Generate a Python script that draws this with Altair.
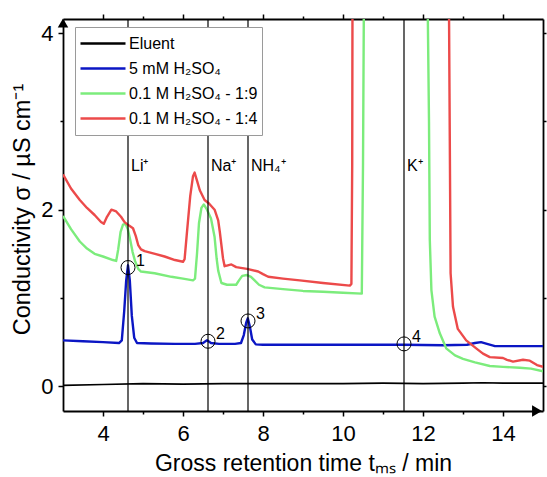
import altair as alt
import pandas as pd

# ---------------- data ----------------
X_MIN, X_MAX = 3, 15
Y_MIN, Y_MAX = -0.28, 4.16

series_names = ["Eluent", "5 mM H₂SO₄", "0.1 M H₂SO₄ - 1:9", "0.1 M H₂SO₄ - 1:4"]
series_colors = ["#000000", "#0b16c4", "#7cec7c", "#ec4a4a"]

eluent_t = [3.0, 4.0, 5.0, 6.0, 7.0, 8.0, 9.0, 10.0, 11.0, 12.0, 13.0, 13.5, 14.0, 15.0]
eluent_v = [0.01, 0.02, 0.03, 0.025, 0.03, 0.03, 0.03, 0.03, 0.035, 0.03, 0.035, 0.04, 0.035, 0.035]

blue_t = [3.0, 3.5, 4.0, 4.4, 4.47, 4.53, 4.58, 4.625, 4.67, 4.72, 4.78, 4.85, 5.2, 5.8, 6.3,
          6.5, 6.6, 6.7, 6.9, 7.3, 7.45, 7.52, 7.58, 7.62, 7.67, 7.73, 7.82, 8.0, 8.6, 9.5,
          10.5, 11.5, 12.5, 13.1, 13.3, 13.45, 13.6, 13.8, 14.4, 15.0]
blue_v = [0.52, 0.51, 0.50, 0.49, 0.52, 0.85, 1.2, 1.37, 1.2, 0.8, 0.55, 0.49, 0.485, 0.48, 0.48,
          0.49, 0.52, 0.49, 0.48, 0.48, 0.49, 0.58, 0.72, 0.77, 0.68, 0.53, 0.475, 0.47, 0.47, 0.47,
          0.47, 0.47, 0.465, 0.47, 0.49, 0.50, 0.48, 0.455, 0.455, 0.455]

green_t = [3.0, 3.2, 3.42, 3.6, 3.79, 4.0, 4.25, 4.33, 4.38, 4.44, 4.5, 4.56, 4.62, 4.68, 4.74,
           4.8, 4.88, 4.95, 5.29, 5.71, 6.0, 6.25, 6.3, 6.35, 6.4, 6.46, 6.52, 6.6, 6.7, 6.79,
           6.84, 6.88, 6.96, 7.1, 7.33, 7.4, 7.48, 7.6, 7.7, 7.79, 7.9, 8.04, 8.5, 9.0, 9.5,
           10.0, 10.47, 10.5, 10.53, 12.1, 12.15, 12.17, 12.21, 12.29, 12.42, 12.58, 12.8, 13.0,
           13.3, 13.67, 14.0, 14.42, 14.7, 15.0]
green_v = [1.93, 1.78, 1.64, 1.56, 1.50, 1.47, 1.43, 1.42, 1.55, 1.75, 1.83, 1.84, 1.78, 1.66, 1.52,
           1.42, 1.33, 1.30, 1.28, 1.24, 1.22, 1.20, 1.22, 1.5, 1.85, 2.02, 2.06, 2.0, 1.9, 1.69,
           1.45, 1.31, 1.17, 1.15, 1.15, 1.2, 1.25, 1.26, 1.24, 1.20, 1.15, 1.12, 1.10, 1.08, 1.07,
           1.06, 1.05, 2.5, 5.0, 5.0, 3.0, 1.66, 1.09, 0.79, 0.60, 0.43, 0.35, 0.31,
           0.27, 0.23, 0.22, 0.21, 0.20, 0.17]

red_t = [3.0, 3.2, 3.42, 3.6, 3.79, 3.95, 4.02, 4.1, 4.21, 4.33, 4.45, 4.54, 4.65, 4.75, 4.82,
         4.88, 4.95, 5.04, 5.3, 5.54, 5.8, 6.0, 6.04, 6.1, 6.18, 6.25, 6.29, 6.35, 6.42, 6.54,
         6.65, 6.79, 6.88, 6.92, 6.96, 7.0, 7.04, 7.12, 7.21, 7.33, 7.6, 7.88, 8.0, 8.13, 8.5,
         8.92, 9.5, 10.17, 10.21, 10.23, 10.24, 12.64, 12.67, 12.69, 12.75, 12.87, 13.08, 13.33,
         13.5, 13.67, 14.0, 14.1, 14.25, 14.5, 14.67, 14.85, 15.0]
red_v = [2.40, 2.24, 2.11, 2.02, 1.94, 1.86, 1.84, 1.92, 2.0, 1.98, 1.92, 1.86, 1.82, 1.79, 1.70,
         1.60, 1.55, 1.53, 1.50, 1.47, 1.43, 1.41, 1.44, 1.75, 2.15, 2.38, 2.42, 2.33, 2.22, 2.11,
         2.07, 2.0, 1.88, 1.75, 1.60, 1.45, 1.36, 1.37, 1.38, 1.35, 1.33, 1.30, 1.27, 1.24, 1.22,
         1.20, 1.17, 1.14, 1.16, 2.5, 5.0, 5.0, 2.79, 1.28, 0.90, 0.65, 0.52, 0.43,
         0.37, 0.33, 0.32, 0.30, 0.28, 0.30, 0.29, 0.24, 0.22]

ion_names = ["Li⁺", "Na⁺", "NH₄⁺", "K⁺"]
ion_times = [4.625, 6.625, 7.625, 11.525]
ION_LABEL_Y = 2.5

peak_labels = ["1", "2", "3", "4"]
peak_t = [4.625, 6.625, 7.625, 11.525]
peak_v = [1.345, 0.51, 0.74, 0.48]

X_MAJOR = [4, 6, 8, 10, 12, 14]
X_MINOR = [5, 7, 9, 11, 13]
Y_MAJOR = [0, 2, 4]
Y_MINOR = [1, 3]
Y_RIGHT = [0, 1, 2, 3, 4]

# ---------------- tables ----------------
frames = []
for name, ts, vs in zip(series_names, [eluent_t, blue_t, green_t, red_t],
                        [eluent_v, blue_v, green_v, red_v]):
    frames.append(pd.DataFrame({"t": ts, "v": vs, "series": name, "idx": range(len(ts))}))
curves = pd.concat(frames, ignore_index=True)

ions = pd.DataFrame({"ion": ion_names, "t": ion_times, "v": [ION_LABEL_Y] * len(ion_names)})
peaks = pd.DataFrame({"lab": peak_labels, "t": peak_t, "v": peak_v})
corners = pd.DataFrame({"t": [X_MIN, X_MAX], "v": [Y_MIN, Y_MAX]})
top_arrow = pd.DataFrame({"t": [X_MIN], "v": [Y_MAX]})
right_arrow = pd.DataFrame({"t": [X_MAX], "v": [Y_MIN]})

FONT = "Liberation Sans"
NB = "\u00a0"
xs = alt.Scale(domain=[X_MIN, X_MAX], nice=False, zero=False)
ys = alt.Scale(domain=[Y_MIN, Y_MAX], nice=False, zero=False)

common = dict(domainColor="black", tickColor="black", labelColor="black", grid=False,
              labelFont=FONT, titleFont=FONT, tickWidth=1.5, domainWidth=1.8)

# axis layers
axA = alt.Chart(corners).mark_point(opacity=0).encode(
    x=alt.X("t:Q", scale=xs, axis=alt.Axis(
        orient="bottom", values=X_MAJOR, tickSize=5, labelFontSize=22, labelPadding=7,
        format="d", title="Gross retention time tₘₛ / min", titleFontSize=23,
        titleFontWeight="normal", titleY=59, titleBaseline="alphabetic", titleColor="black",
        **common)),
    y=alt.Y("v:Q", scale=ys, axis=alt.Axis(
        orient="left", values=Y_MAJOR, tickSize=5, labelFontSize=22, labelPadding=5,
        format="d", title=f"Conductivity σ{NB}/{NB}µS{NB}cm⁻¹", titleFontSize=23.5,
        titleFontWeight="normal", titleX=-41, titleY=190, titleAlign="center",
        titleBaseline="middle", titleAngle=270, titleColor="black", **common)),
)
axB = alt.Chart(corners).mark_point(opacity=0).encode(
    x=alt.X("t:Q", scale=xs, axis=alt.Axis(orient="bottom", values=X_MINOR, tickSize=3,
                                          labels=False, domain=False, title=None, **common)),
    y=alt.Y("v:Q", scale=ys, axis=alt.Axis(orient="left", values=Y_MINOR, tickSize=3,
                                          labels=False, domain=False, title=None, **common)),
)
axC = alt.Chart(corners).mark_point(opacity=0).encode(
    x=alt.X("t:Q", scale=xs, axis=alt.Axis(orient="top", values=X_MAJOR, tickSize=5,
                                          labels=False, title=None, **common)),
    y=alt.Y("v:Q", scale=ys, axis=alt.Axis(orient="right", values=Y_RIGHT, tickSize=3,
                                          labels=False, title=None, **common)),
)
axD = alt.Chart(corners).mark_point(opacity=0).encode(
    x=alt.X("t:Q", scale=xs, axis=alt.Axis(orient="top", values=X_MINOR, tickSize=3,
                                          labels=False, domain=False, title=None, **common)),
    y=alt.Y("v:Q", scale=ys, axis=None),
)

lines = alt.Chart(curves).mark_line(clip=True, strokeJoin="round").encode(
    x=alt.X("t:Q", scale=xs, axis=None),
    y=alt.Y("v:Q", scale=ys, axis=None),
    order="idx:Q",
    strokeWidth=alt.condition(alt.datum.series == "Eluent", alt.value(1.7), alt.value(2.4)),
    color=alt.Color("series:N", scale=alt.Scale(domain=series_names, range=series_colors),
                    legend=alt.Legend(
                        title=None, orient="none", legendX=12, legendY=8,
                        symbolType="stroke", symbolSize=2025, symbolStrokeWidth=2.4,
                        labelFontSize=16, labelFont=FONT, labelColor="black",
                        strokeColor="#9a9a9a", padding=4, rowPadding=0, clipHeight=25,
                        labelOffset=2, fillColor="white", labelLimit=300)),
)

rules = alt.Chart(ions).mark_rule(color="black", strokeWidth=1.2).encode(
    x=alt.X("t:Q", scale=xs, axis=None),
)
ion_text = alt.Chart(ions).mark_text(align="left", baseline="middle", dx=3, fontSize=16,
                                     font=FONT, color="black").encode(
    x=alt.X("t:Q", scale=xs, axis=None), y=alt.Y("v:Q", scale=ys, axis=None), text="ion:N")
circles = alt.Chart(peaks).mark_point(shape="circle", size=196, filled=False, color="black",
                                      strokeWidth=1, opacity=1).encode(
    x=alt.X("t:Q", scale=xs, axis=None), y=alt.Y("v:Q", scale=ys, axis=None))
peak_text = alt.Chart(peaks).mark_text(align="left", baseline="middle", dx=8, dy=-7,
                                       fontSize=16, font=FONT, color="black").encode(
    x=alt.X("t:Q", scale=xs, axis=None), y=alt.Y("v:Q", scale=ys, axis=None), text="lab:N")

arrow_up = alt.Chart(top_arrow).mark_point(shape="triangle-up", size=110, filled=True,
                                           color="black", opacity=1).encode(
    x=alt.X("t:Q", scale=xs, axis=None), y=alt.Y("v:Q", scale=ys, axis=None),
    yOffset=alt.value(4))
arrow_right = alt.Chart(right_arrow).mark_point(shape="triangle-right", size=130, filled=True,
                                                color="black", opacity=1).encode(
    x=alt.X("t:Q", scale=xs, axis=None), y=alt.Y("v:Q", scale=ys, axis=None),
    xOffset=alt.value(-6))

chart = alt.layer(
    axA, axB, axC, axD, lines, rules, ion_text, circles, peak_text, arrow_up, arrow_right
).resolve_axis(x="independent", y="independent").properties(
    width=480, height=392,
    autosize=alt.AutoSizeParams(type="none"),
    padding={"left": 63, "top": 19, "right": 4, "bottom": 66},
).configure_view(stroke=None)

chart.save("out.html", embed_options={"renderer": "svg", "actions": False})
